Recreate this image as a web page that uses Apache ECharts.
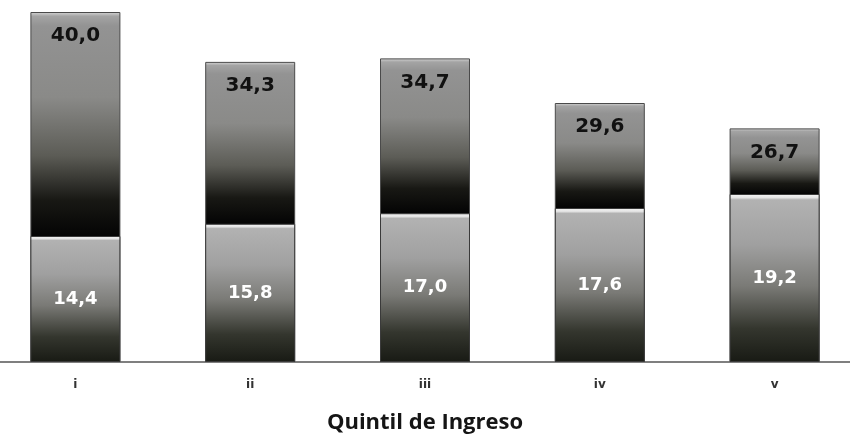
<!DOCTYPE html>
<html>
<head>
<meta charset="utf-8">
<script src="https://cdn.jsdelivr.net/npm/echarts@6/dist/echarts.min.js"></script>
<style>
  html, body { margin: 0; padding: 0; background: #ffffff; overflow: hidden; }
  #chart { width: 850px; height: 434px; }
</style>
</head>
<body>
<div id="chart"></div>
<script>
// Income quintiles
const quintiles = ['i', 'ii', 'iii', 'iv', 'v'];
// Total per quintile (label on top of each bar)
const totals = [40.0, 34.3, 34.7, 29.6, 26.7];
// Lower share within each bar
const lowerPart = [14.4, 15.8, 17.0, 17.6, 19.2];

const fmt = v => v.toFixed(1).replace('.', ',');

// Upper block: gray fading to black down to where the lower block starts
function upperGradient(total, lower) {
  const f = (total - lower) / total;
  return new echarts.graphic.LinearGradient(0, 0, 0, 1, [
    { offset: 0, color: '#d8d8d8' },
    { offset: 0.012, color: '#a4a4a4' },
    { offset: 0.04, color: '#939393' },
    { offset: 0.38 * f, color: '#8a8a88' },
    { offset: 0.64 * f, color: '#5c5c56' },
    { offset: 0.84 * f, color: '#181814' },
    { offset: f, color: '#040404' },
    { offset: 1, color: '#040404' }
  ]);
}

// Lower block: bright rim, light gray fading to a dark base
const lowerGradient = new echarts.graphic.LinearGradient(0, 0, 0, 1, [
  { offset: 0, color: '#f6f6f6' },
  { offset: 0.022, color: '#e4e4e4' },
  { offset: 0.035, color: '#b2b2b2' },
  { offset: 0.3, color: '#a0a0a0' },
  { offset: 0.55, color: '#7a7a76' },
  { offset: 0.8, color: '#34362e' },
  { offset: 1, color: '#181a14' }
]);

const chart = echarts.init(document.getElementById('chart'), null, { renderer: 'canvas' });

chart.setOption({
  backgroundColor: '#ffffff',
  animation: false,
  grid: {
    left: -12, right: -12, top: 12, bottom: 72,
    containLabel: false,
    outerBoundsMode: 'none'
  },
  xAxis: {
    type: 'category',
    data: quintiles,
    axisLine: { show: true, lineStyle: { color: '#555555', width: 1.5 } },
    axisTick: { show: false },
    axisLabel: {
      margin: 17,
      color: '#333333',
      fontFamily: 'DejaVu Sans',
      fontWeight: 'bold',
      fontSize: 12
    },
    name: 'Quintil de Ingreso',
    nameLocation: 'middle',
    nameGap: 50,
    nameTextStyle: {
      color: '#151515',
      fontFamily: 'Open Sans',
      fontWeight: 'bold',
      fontSize: 22
    }
  },
  yAxis: {
    type: 'value',
    min: 0,
    max: 40,
    show: false
  },
  series: [
    {
      name: 'Total',
      type: 'bar',
      barWidth: 90,
      barGap: '-100%',
      data: totals.map((t, i) => ({
        value: t,
        itemStyle: { color: upperGradient(t, lowerPart[i]) }
      })),
      itemStyle: { borderColor: '#4a4a4a', borderWidth: 1 },
      label: {
        show: true,
        position: 'insideTop',
        distance: 14,
        formatter: p => fmt(p.value),
        color: '#111111',
        fontFamily: 'DejaVu Sans',
        fontWeight: 'bold',
        fontSize: 20
      }
    },
    {
      name: 'Inferior',
      type: 'bar',
      barWidth: 90,
      barGap: '-100%',
      data: lowerPart,
      itemStyle: { color: lowerGradient, borderColor: '#3a3a3a', borderWidth: 1 },
      label: {
        show: true,
        position: 'inside',
        formatter: p => fmt(p.value),
        color: '#ffffff',
        fontFamily: 'DejaVu Sans',
        fontWeight: 'bold',
        fontSize: 18
      }
    }
  ]
});
</script>
</body>
</html>
